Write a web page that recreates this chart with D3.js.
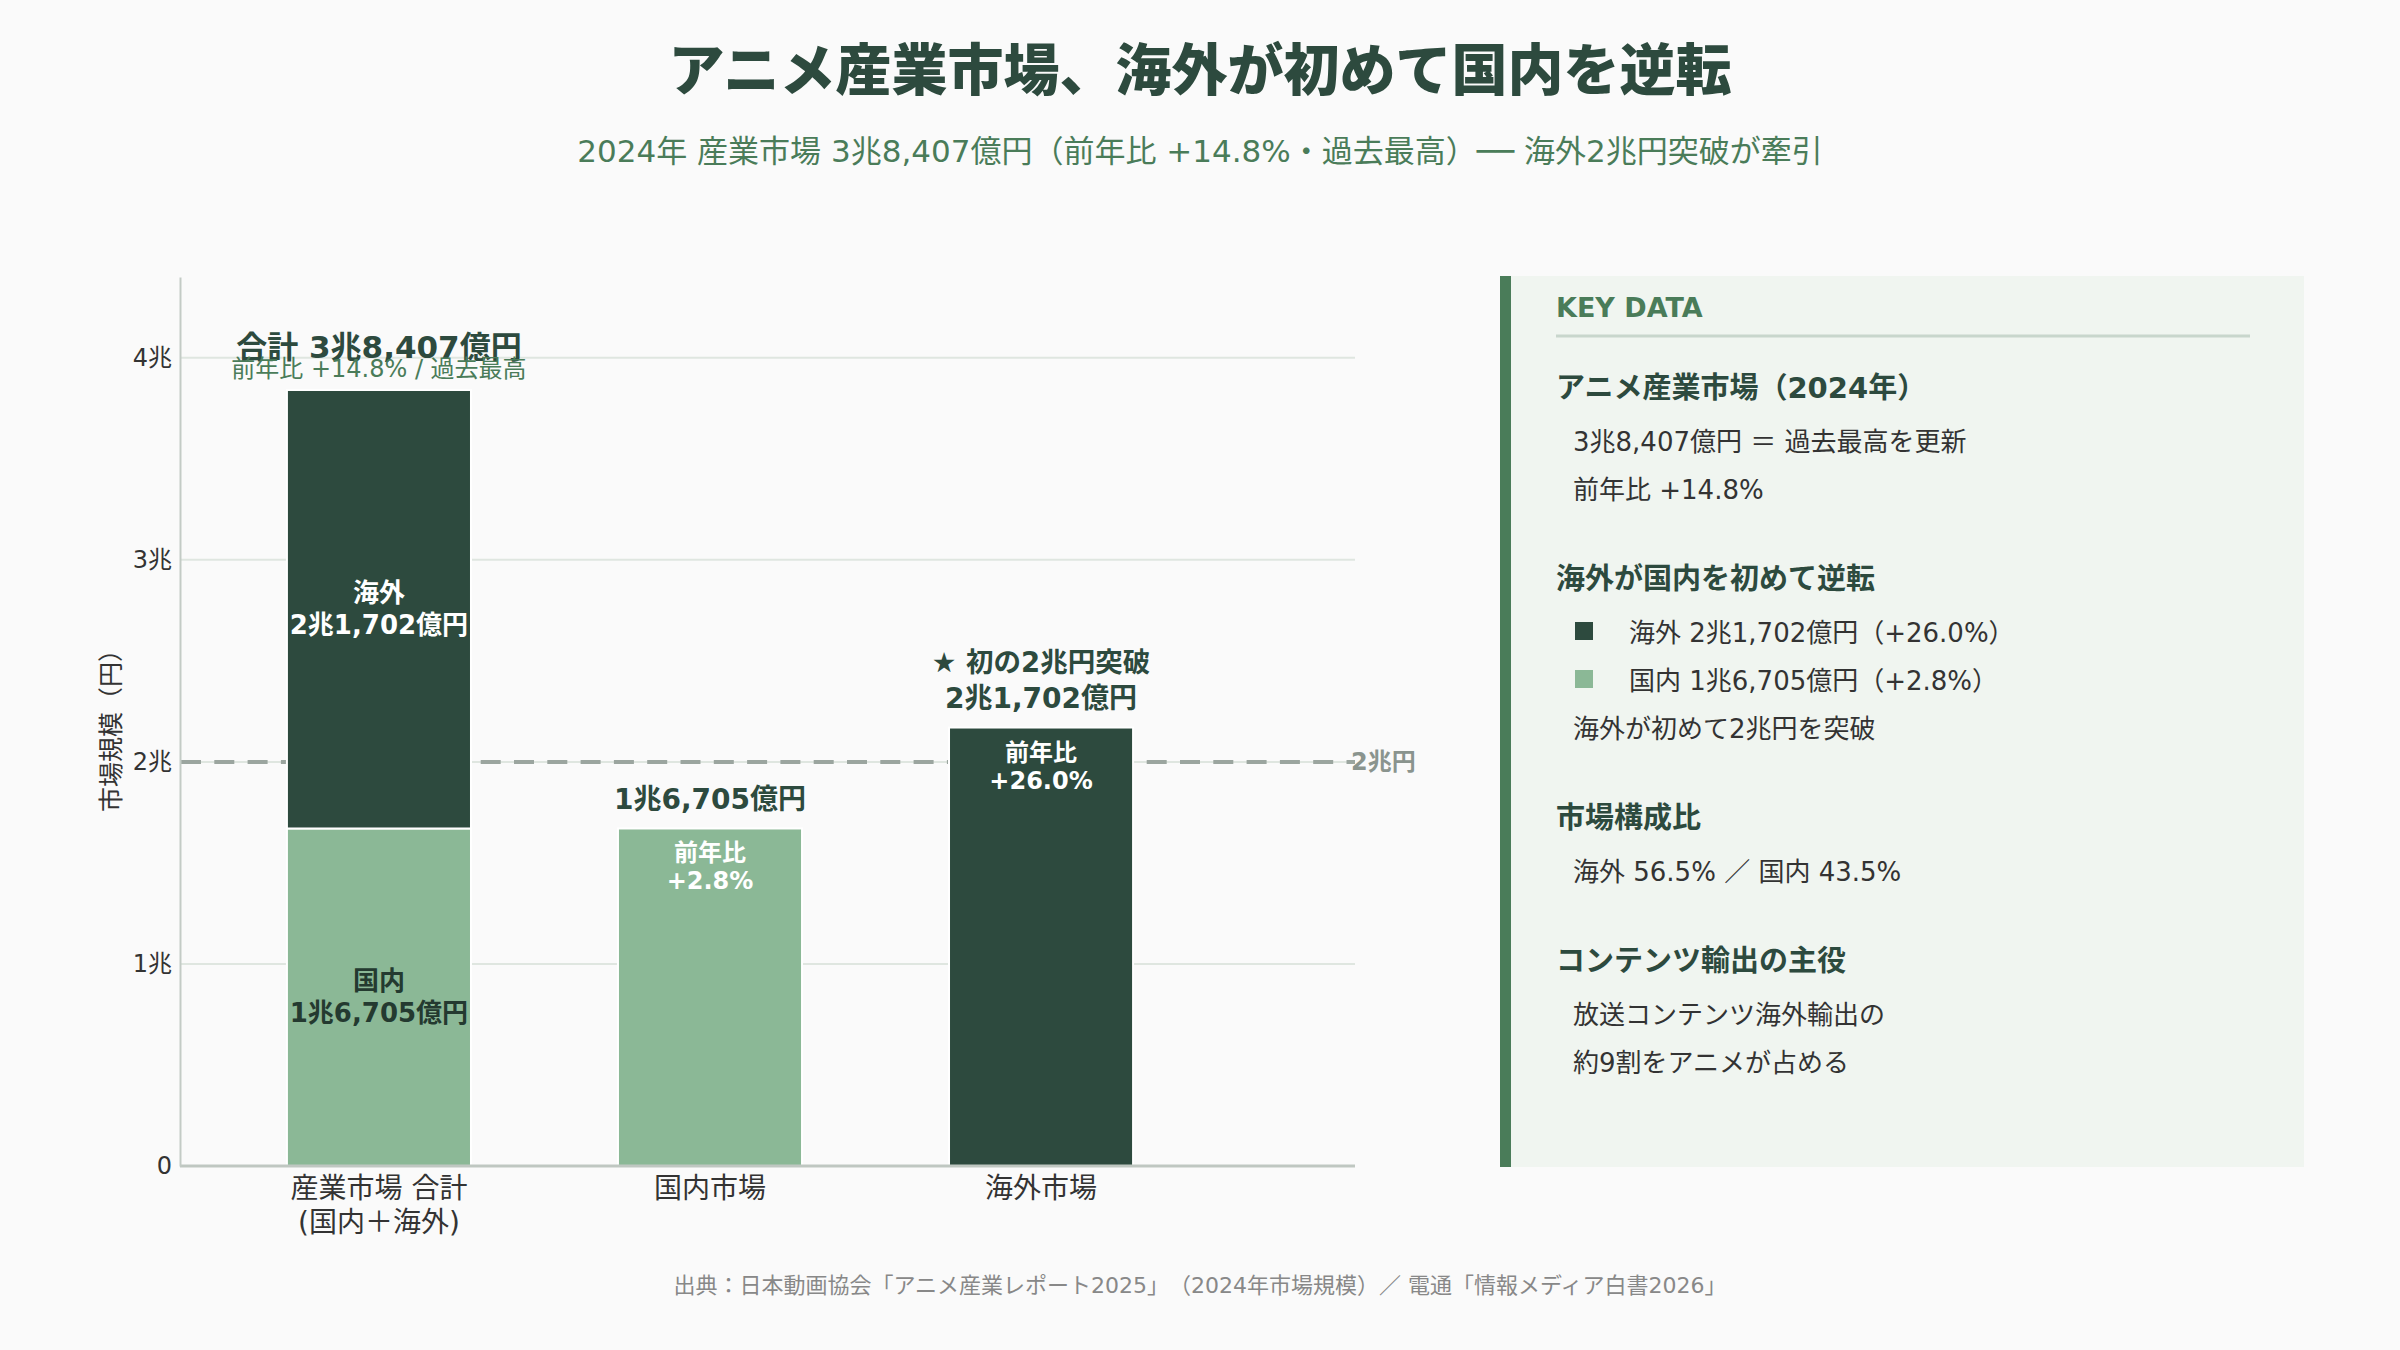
<!DOCTYPE html>
<html>
<head>
<meta charset="utf-8">
<script src="https://cdn.jsdelivr.net/npm/d3@7"></script>
<style>
  html, body { margin: 0; padding: 0; background: #fafafa; }
  svg text { font-family: "DejaVu Sans", "Noto Sans CJK JP", sans-serif; text-spacing-trim: space-all; }
</style>
</head>
<body>
<div id="root"></div>
<script>
// 単位: 兆円
let categories = ['total', 'domestic', 'overseas']
let categoryLabels = [['産業市場 合計', '(国内＋海外)'], ['国内市場'], ['海外市場']]
let domesticPart = [1.6705, 1.6705, 0]
let overseasPart = [2.1702, 0, 2.1702]
let yoyLabels = ['+14.8%', '+2.8%', '+26.0%']
let yTicks = [0, 1, 2, 3, 4]
let yTickLabels = ['0', '1兆', '2兆', '3兆', '4兆']
let threshold = 2
let thresholdLabel = '2兆円'

let title = 'アニメ産業市場、海外が初めて国内を逆転'
let subtitle = '2024年 産業市場 3兆8,407億円（前年比 +14.8%・過去最高）── 海外2兆円突破が牽引'
let source = '出典：日本動画協会「アニメ産業レポート2025」（2024年市場規模）／ 電通「情報メディア白書2026」'

let panelSections = [
  { head: 'アニメ産業市場（2024年）', lines: ['3兆8,407億円 ＝ 過去最高を更新', '前年比 +14.8%'] },
  { head: '海外が国内を初めて逆転', legend: [['overseas', '海外  2兆1,702億円（+26.0%）'], ['domestic', '国内  1兆6,705億円（+2.8%）']], lines: ['海外が初めて2兆円を突破'] },
  { head: '市場構成比', lines: ['海外 56.5% ／ 国内 43.5%'] },
  { head: 'コンテンツ輸出の主役', lines: ['放送コンテンツ海外輸出の', '約9割をアニメが占める'] }
]

let W = 2400, H = 1350
let dark = '#2d4a3e', light = '#8bb896', mid = '#4a7c59'
let colors = { domestic: light, overseas: dark }

let fmtOku = v => {
  let oku = Math.round(v * 10000)
  let cho = Math.floor(oku / 10000)
  return cho + '兆' + d3.format(',')(oku % 10000) + '億円'
}

document.getElementById('root').innerHTML += `
<svg width=${W} height=${H}></svg>
`
let svg = d3.select('svg')
svg.append('rect').attr('width', W).attr('height', H).attr('fill', '#fafafa')

svg.append('text')
   .attr('x', W / 2).attr('y', 70)
   .attr('text-anchor', 'middle').attr('dominant-baseline', 'central')
   .attr('font-size', 56).attr('font-weight', 900).attr('fill', dark)
   .text(title)

svg.append('text')
   .attr('x', W / 2).attr('y', 151)
   .attr('text-anchor', 'middle').attr('dominant-baseline', 'central')
   .attr('font-size', 31).attr('fill', mid)
   .text(subtitle)

// scales
let x = d3.scaleBand().domain(categories).range([180, 1240]).paddingInner(0.444).paddingOuter(0.323)
let y = d3.scaleLinear().domain([0, 4.4]).range([1166, 277])
let xRight = 1355

let rows = categories.map((c, i) => ({ cat: c, domestic: domesticPart[i], overseas: overseasPart[i] }))
let stacked = d3.stack().keys(['domestic', 'overseas'])(rows)
let totals = rows.map(r => r.domestic + r.overseas)

// grid
svg.append('g').selectAll('line')
   .data(yTicks.filter(d => d > 0)).enter()
   .append('line')
   .attr('x1', 180).attr('x2', xRight)
   .attr('y1', d => y(d)).attr('y2', d => y(d))
   .attr('stroke', '#dfe6e0').attr('stroke-width', 2)

// threshold line
svg.append('line')
   .attr('x1', 181).attr('x2', xRight)
   .attr('y1', y(threshold)).attr('y2', y(threshold))
   .attr('stroke', '#9ba59f').attr('stroke-width', 4)
   .attr('stroke-dasharray', '20,13.3')
svg.append('text')
   .attr('x', 1351).attr('y', y(threshold))
   .attr('dominant-baseline', 'central')
   .attr('font-size', 24).attr('font-weight', 700).attr('fill', '#8a948e')
   .text(thresholdLabel)

// bars
svg.append('g').selectAll('g')
   .data(stacked).enter()
   .append('g')
   .attr('fill', d => colors[d.key])
   .selectAll('rect')
   .data(d => d.filter(s => s[1] > s[0])).enter()
   .append('rect')
   .attr('x', d => x(d.data.cat))
   .attr('y', d => y(d[1]))
   .attr('width', x.bandwidth())
   .attr('height', d => y(d[0]) - y(d[1]))
   .attr('stroke', '#fff').attr('stroke-width', 2)

// baseline + axis
svg.append('line')
   .attr('x1', 180).attr('x2', xRight)
   .attr('y1', y(0)).attr('y2', y(0))
   .attr('stroke', '#bfc7c1').attr('stroke-width', 3)

let yAxis = svg.append('g')
   .attr('transform', 'translate(180,0)')
   .call(d3.axisLeft(y).tickValues(yTicks).tickFormat((d, i) => yTickLabels[i]).tickSize(0).tickSizeOuter(0).tickPadding(8))
yAxis.select('.domain').attr('stroke', '#c3cbc5').attr('stroke-width', 2)
yAxis.selectAll('text').attr('font-size', 24).attr('fill', '#333').attr('font-family', null)

svg.append('text')
   .attr('transform', `translate(111,${(y(0) + y(4.4)) / 2 + 3}) rotate(-90)`)
   .attr('text-anchor', 'middle').attr('dominant-baseline', 'central')
   .attr('font-size', 25).attr('fill', '#333')
   .text('市場規模（円）')

// x labels
categories.forEach((c, i) => {
  categoryLabels[i].forEach((t, j) => {
    svg.append('text')
       .attr('x', x(c) + x.bandwidth() / 2).attr('y', 1188 + j * 34)
       .attr('text-anchor', 'middle').attr('dominant-baseline', 'central')
       .attr('font-size', 28).attr('fill', '#333')
       .text(t)
  })
})

let label = (cx, cy, t, size, weight, fill) =>
  svg.append('text')
     .attr('x', cx).attr('y', cy)
     .attr('text-anchor', 'middle').attr('dominant-baseline', 'central')
     .attr('font-size', size).attr('font-weight', weight).attr('fill', fill)
     .text(t)

let cx = c => x(c) + x.bandwidth() / 2

// total bar
let t0 = y(totals[0])
label(cx('total'), t0 - 43, '合計 ' + fmtOku(totals[0]), 31, 700, dark)
label(cx('total'), t0 - 21, '前年比 ' + yoyLabels[0] + ' / 過去最高', 24, 400, mid)
let oMid = (y(domesticPart[0]) + y(totals[0])) / 2
label(cx('total'), oMid - 16, '海外', 26, 700, '#fff')
label(cx('total'), oMid + 16, fmtOku(overseasPart[0]), 26, 700, '#fff')
let dMid = (y(0) + y(domesticPart[0])) / 2
label(cx('total'), dMid - 16, '国内', 26, 700, '#243a30')
label(cx('total'), dMid + 16, fmtOku(domesticPart[0]), 26, 700, '#243a30')

// domestic bar
let t1 = y(totals[1])
label(cx('domestic'), t1 - 29, fmtOku(domesticPart[1]), 28, 700, dark)
label(cx('domestic'), t1 + 25, '前年比', 24, 700, '#fff')
label(cx('domestic'), t1 + 53, yoyLabels[1], 24, 700, '#fff')

// overseas bar
let t2 = y(totals[2])
label(cx('overseas'), t2 - 66, '★ 初の2兆円突破', 27.5, 700, dark)
label(cx('overseas'), t2 - 29, fmtOku(overseasPart[2]), 28, 700, dark)
label(cx('overseas'), t2 + 25, '前年比', 24, 700, '#fff')
label(cx('overseas'), t2 + 53, yoyLabels[2], 24, 700, '#fff')

// key data panel
let px = 1500, pTop = y(4.4) - 1, pBottom = y(0) + 1
svg.append('rect')
   .attr('x', px).attr('y', pTop).attr('width', 804).attr('height', pBottom - pTop)
   .attr('fill', '#f0f5f0')
svg.append('rect')
   .attr('x', px).attr('y', pTop).attr('width', 11).attr('height', pBottom - pTop)
   .attr('fill', mid)

svg.append('text')
   .attr('x', 1556).attr('y', 307).attr('dominant-baseline', 'central')
   .attr('font-size', 27).attr('font-weight', 700).attr('fill', mid)
   .text('KEY DATA')
svg.append('line')
   .attr('x1', 1556).attr('x2', 2250).attr('y1', 336).attr('y2', 336)
   .attr('stroke', '#c8d6cc').attr('stroke-width', 3)

let cur = 299
panelSections.forEach(s => {
  cur += 89
  svg.append('text')
     .attr('x', 1556).attr('y', cur).attr('dominant-baseline', 'central')
     .attr('font-size', 29).attr('font-weight', 700).attr('fill', dark)
     .text(s.head)
  cur += 6
  ;(s.legend || []).forEach(l => {
    cur += 48
    svg.append('rect')
       .attr('x', 1575).attr('y', cur - 11).attr('width', 18).attr('height', 18)
       .attr('fill', colors[l[0]])
    svg.append('text')
       .attr('x', 1629).attr('y', cur).attr('dominant-baseline', 'central')
       .attr('font-size', 26).attr('fill', '#333')
       .text(l[1])
  })
  s.lines.forEach(t => {
    cur += 48
    svg.append('text')
       .attr('x', 1573).attr('y', cur).attr('dominant-baseline', 'central')
       .attr('font-size', 26).attr('fill', '#333')
       .text(t)
  })
})

svg.append('text')
   .attr('x', W / 2).attr('y', 1285)
   .attr('text-anchor', 'middle').attr('dominant-baseline', 'central')
   .attr('font-size', 22).attr('fill', '#888')
   .text(source)
</script>
</body>
</html>
